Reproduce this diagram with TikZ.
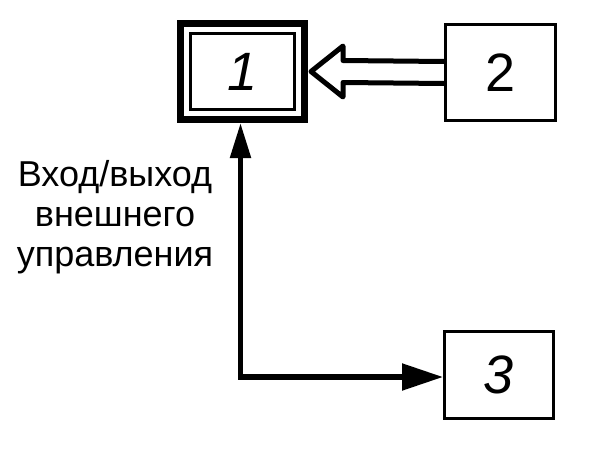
\documentclass[tikz,border=0pt]{standalone}
\usepackage{fontspec}
\setmainfont{Liberation Sans}
\usepackage{tikz}
\usetikzlibrary{positioning, arrows.meta, calc}

\begin{document}
\begin{tikzpicture}[
  x=0.5pt, y=-0.5pt,
  blok/.style={draw, line width=1.5pt, inner sep=0pt, font=\fontsize{27}{30}\selectfont},
  svjaz/.style={line width=2.6pt,
    {Triangle[length=17.5pt, width=10pt]}-{Triangle[length=20.5pt, width=13pt]}},
  polaja/.style={line width=2.5pt, line join=round},
  tekst/.style={align=center, font=\fontsize{18}{20}\selectfont},
]
\useasboundingbox (0,0) rectangle (601,450);

% Bloki
\node[blok, line width=3.5pt, minimum width=62pt, minimum height=48pt] (b1) at (242.5,71.5) {};
\node[blok, minimum width=52pt, minimum height=38pt] (b1in) at (b1.center) {\itshape 1};
\node[blok, minimum width=55pt, minimum height=48pt] (b2) at (500.5,72.5) {2};
\node[blok, minimum width=54.5pt, minimum height=43.5pt] (b3) at (499,375) {\itshape 3};

% Podpis
\node[tekst] (podpis) at (115,217) {Вход/выход\\внешнего\\управления};

% Polaja strelka 2 -> 1
\coordinate (tip) at ([xshift=1.5pt]b1.east);
\draw[polaja] ([yshift=5.5pt]b2.west) -- ($(tip)+(16pt,5.5pt)$) -- ($(tip)+(16pt,12.75pt)$)
  -- (tip) -- ($(tip)+(16pt,-12.75pt)$) -- ($(tip)+(16pt,-5.5pt)$) -- ([yshift=-5.5pt]b2.west);

% Vhod/vyhod
\draw[svjaz] ([xshift=-1pt]b1.south) |- ([yshift=-1pt]b3.west);

\end{tikzpicture}
\end{document}
